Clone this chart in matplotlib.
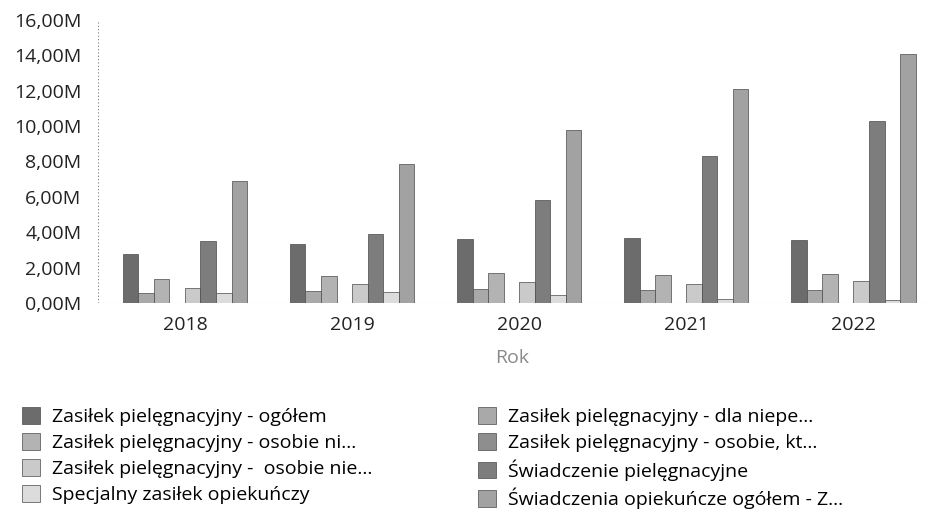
import numpy as np
import matplotlib.pyplot as plt
from matplotlib.ticker import FuncFormatter

plt.rcParams['font.family'] = ['Open Sans', 'DejaVu Sans']

# dane (mln)
lata = ['2018', '2019', '2020', '2021', '2022']
zp_ogolem = [2.77, 3.33, 3.60, 3.65, 3.56]
zp_dla_niepe = [0.56, 0.70, 0.80, 0.73, 0.73]
zp_osobie_ni = [1.36, 1.55, 1.70, 1.60, 1.64]
zp_osobie_kt = [0.02, 0.02, 0.02, 0.02, 0.02]
zp_osobie_nie = [0.85, 1.05, 1.20, 1.10, 1.24]
swiadczenie_piel = [3.50, 3.90, 5.80, 8.30, 10.30]
specjalny = [0.56, 0.65, 0.45, 0.20, 0.15]
swiadczenia_ogolem = [6.90, 7.85, 9.80, 12.10, 14.07]

serie = [
    ('Zasiłek pielęgnacyjny - ogółem', zp_ogolem, '#6c6c6c'),
    ('Zasiłek pielęgnacyjny - dla niepe...', zp_dla_niepe, '#a9a9a9'),
    ('Zasiłek pielęgnacyjny - osobie ni...', zp_osobie_ni, '#b3b3b3'),
    ('Zasiłek pielęgnacyjny - osobie, kt...', zp_osobie_kt, '#8e8e8e'),
    ('Zasiłek pielęgnacyjny -  osobie nie...', zp_osobie_nie, '#cacaca'),
    ('Świadczenie pielęgnacyjne', swiadczenie_piel, '#7d7d7d'),
    ('Specjalny zasiłek opiekuńczy', specjalny, '#dcdcdc'),
    ('Świadczenia opiekuńcze ogółem - Z...', swiadczenia_ogolem, '#a2a2a2'),
]

fig = plt.figure(figsize=(9.27, 5.23), dpi=100)
ax = fig.add_axes([98 / 927, 1 - 303 / 523, 829 / 927, 283 / 523])

x = np.arange(len(lata))
n = len(serie)
w = 0.093
bary = {}
for i, (nazwa, vals, kolor) in enumerate(serie):
    off = (i - (n - 1) / 2) * w
    bary[nazwa] = ax.bar(x + off, vals, w, color=kolor, edgecolor='#4a4a4a',
                         linewidth=0.5, label=nazwa, zorder=3)

ax.set_xlim(-0.52, 4.44)
ax.set_ylim(0, 16)
ax.set_yticks(np.arange(0, 17, 2))
ax.yaxis.set_major_formatter(FuncFormatter(lambda v, p: f'{v:.2f}M'.replace('.', ',')))
ax.set_xticks(x)
ax.set_xticklabels(lata)
ax.tick_params(axis='both', length=0, labelsize=14, colors='#222222')
ax.tick_params(axis='y', pad=12)
ax.tick_params(axis='x', pad=9)

for s in ax.spines.values():
    s.set_visible(False)
ax.axvline(-0.52, color='#777777', lw=0.8, ls=(0, (1, 2)), zorder=1)
ax.axhline(0, color='#777777', lw=0.8, ls=(0, (1, 2)), zorder=1)

ax.set_xlabel('Rok', fontsize=14, color='#8a8a8a', labelpad=11)

# legenda w dwóch kolumnach
kolejnosc = [0, 2, 4, 6, 1, 3, 5, 7]
uchwyty = [bary[serie[k][0]] for k in kolejnosc]
etykiety = [serie[k][0] for k in kolejnosc]
fig.legend(uchwyty, etykiety, ncol=2, loc='upper left',
           bbox_to_anchor=(22 / 927, 1 - 407 / 523), frameon=False,
           fontsize=14, handlelength=0.95, handleheight=0.95,
           handletextpad=0.6, labelspacing=0.36, columnspacing=5.4,
           borderpad=0, borderaxespad=0)

fig.savefig('out.png', dpi=100)
